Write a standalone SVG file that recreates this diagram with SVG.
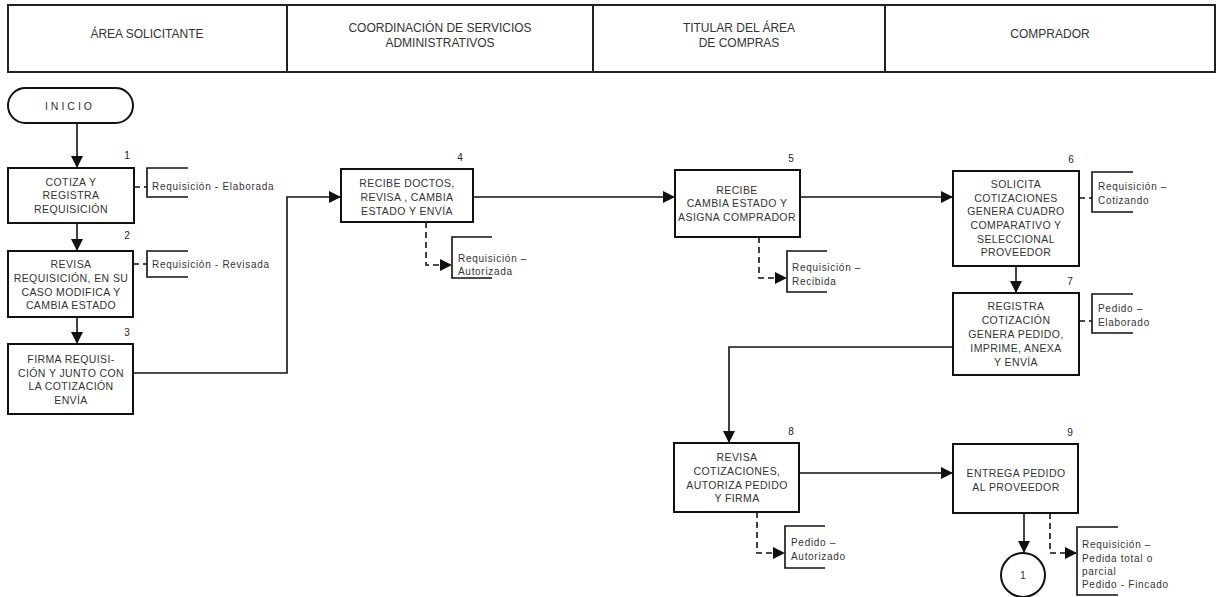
<svg xmlns="http://www.w3.org/2000/svg" width="1220" height="597" viewBox="0 0 1220 597">
<style>
.hdr{fill:none;stroke:#222;stroke-width:2}
.ht{font-family:"Liberation Sans",Arial,sans-serif;font-size:12px;fill:#333;text-anchor:middle}
.box{fill:#fff;stroke:#111;stroke-width:2}
.bt{font-family:"Liberation Sans",Arial,sans-serif;font-size:10.5px;letter-spacing:0.4px;fill:#333;text-anchor:middle}
.num{font-family:"Liberation Sans",Arial,sans-serif;font-size:10px;fill:#222;text-anchor:middle}
.at{font-family:"Liberation Sans",Arial,sans-serif;font-size:10px;letter-spacing:0.7px;fill:#333}
.ln{fill:none;stroke:#111;stroke-width:1.6}
.dl{fill:none;stroke:#111;stroke-width:1.6;stroke-dasharray:6,4}
.br{fill:none;stroke:#111;stroke-width:1.6}
</style>
<defs>
<marker id="ahb" viewBox="0 0 10 10" refX="10" refY="5" markerWidth="12" markerHeight="12" orient="auto" markerUnits="userSpaceOnUse">
<path d="M0,0 L10,5 L0,10 z" fill="#111"/>
</marker>
</defs>
<rect width="1220" height="597" fill="#fff"/>

<g id="header">
<rect class="hdr" x="8" y="5" width="1207" height="67"/>
<line class="hdr" x1="287" y1="5" x2="287" y2="72"/>
<line class="hdr" x1="593" y1="5" x2="593" y2="72"/>
<line class="hdr" x1="885" y1="5" x2="885" y2="72"/>
<text class="ht" x="147" y="38">ÁREA SOLICITANTE</text>
<text class="ht" x="440" y="32">COORDINACIÓN DE SERVICIOS</text>
<text class="ht" x="440" y="47">ADMINISTRATIVOS</text>
<text class="ht" x="739" y="32">TITULAR DEL ÁREA</text>
<text class="ht" x="739" y="47">DE COMPRAS</text>
<text class="ht" x="1050" y="38">COMPRADOR</text>
</g>

<g id="connectors">
<line class="ln" x1="77" y1="123" x2="77" y2="168" marker-end="url(#ahb)"/>
<line class="ln" x1="77" y1="223" x2="77" y2="251" marker-end="url(#ahb)"/>
<line class="ln" x1="77" y1="317" x2="77" y2="344" marker-end="url(#ahb)"/>
<polyline class="ln" points="133,373 287,373 287,197 341,197" marker-end="url(#ahb)"/>
<line class="ln" x1="473" y1="197" x2="675" y2="197" marker-end="url(#ahb)"/>
<line class="ln" x1="800" y1="197" x2="953" y2="197" marker-end="url(#ahb)"/>
<line class="ln" x1="1016" y1="266" x2="1016" y2="293" marker-end="url(#ahb)"/>
<polyline class="ln" points="953,347 729,347 729,443" marker-end="url(#ahb)"/>
<line class="ln" x1="799" y1="473" x2="953" y2="473" marker-end="url(#ahb)"/>
<line class="ln" x1="1024" y1="513" x2="1024" y2="553" marker-end="url(#ahb)"/>
<line class="dl" x1="134" y1="187" x2="147" y2="187"/>
<line class="dl" x1="133" y1="264" x2="147" y2="264"/>
<polyline class="dl" points="426,222 426,265 452,265" marker-end="url(#ahb)"/>
<polyline class="dl" points="759,237 759,278 787,278" marker-end="url(#ahb)"/>
<line class="dl" x1="1079" y1="198" x2="1092" y2="198"/>
<line class="dl" x1="1079" y1="321" x2="1092" y2="321"/>
<polyline class="dl" points="757,512 757,553 785,553" marker-end="url(#ahb)"/>
<polyline class="dl" points="1050,513 1050,553 1077,553" marker-end="url(#ahb)"/>
</g>

<g id="inicio">
<rect class="box" x="8" y="88" width="125" height="35" rx="17.5" ry="17.5"/>
<text class="bt" x="70" y="110" style="letter-spacing:3px">INICIO</text>
</g>

<g id="n1">
<rect class="box" x="8" y="168" width="126" height="55"/>
<text class="num" x="127" y="159">1</text>
<text class="bt" x="71" y="186">COTIZA Y</text>
<text class="bt" x="71" y="199">REGISTRA</text>
<text class="bt" x="71" y="213">REQUISICIÓN</text>
</g>
<g id="a1">
<polyline class="br" points="188,168 147,168 147,197 188,197"/>
<text class="at" x="152" y="190">Requisición - Elaborada</text>
</g>

<g id="n2">
<rect class="box" x="8" y="251" width="125" height="66"/>
<text class="num" x="127" y="239">2</text>
<text class="bt" x="71" y="268">REVISA</text>
<text class="bt" x="71" y="282">REQUISICIÓN, EN SU</text>
<text class="bt" x="71" y="296">CASO MODIFICA Y</text>
<text class="bt" x="71" y="309">CAMBIA ESTADO</text>
</g>
<g id="a2">
<polyline class="br" points="188,251 147,251 147,277 188,277"/>
<text class="at" x="152" y="268">Requisición - Revisada</text>
</g>

<g id="n3">
<rect class="box" x="8" y="344" width="125" height="70"/>
<text class="num" x="127" y="336">3</text>
<text class="bt" x="71" y="363">FIRMA REQUISI-</text>
<text class="bt" x="71" y="377">CIÓN Y JUNTO CON</text>
<text class="bt" x="71" y="390">LA COTIZACIÓN</text>
<text class="bt" x="71" y="404">ENVÍA</text>
</g>

<g id="n4">
<rect class="box" x="341" y="169" width="132" height="53"/>
<text class="num" x="460" y="161">4</text>
<text class="bt" x="407" y="187">RECIBE DOCTOS,</text>
<text class="bt" x="407" y="201">REVISA , CAMBIA</text>
<text class="bt" x="407" y="215">ESTADO Y ENVÍA</text>
</g>
<g id="a4">
<polyline class="br" points="492,237 452,237 452,278 492,278"/>
<text class="at" x="458" y="262">Requisición –</text>
<text class="at" x="458" y="275">Autorizada</text>
</g>

<g id="n5">
<rect class="box" x="675" y="170" width="125" height="67"/>
<text class="num" x="791" y="162">5</text>
<text class="bt" x="737" y="194">RECIBE</text>
<text class="bt" x="737" y="207">CAMBIA ESTADO Y</text>
<text class="bt" x="737" y="221">ASIGNA COMPRADOR</text>
</g>
<g id="a5">
<polyline class="br" points="827,251 787,251 787,292 827,292"/>
<text class="at" x="792" y="271">Requisición –</text>
<text class="at" x="792" y="285">Recibida</text>
</g>

<g id="n6">
<rect class="box" x="953" y="171" width="126" height="95"/>
<text class="num" x="1071" y="163">6</text>
<text class="bt" x="1016" y="188">SOLICITA</text>
<text class="bt" x="1016" y="202">COTIZACIONES</text>
<text class="bt" x="1016" y="215">GENERA CUADRO</text>
<text class="bt" x="1016" y="229">COMPARATIVO Y</text>
<text class="bt" x="1016" y="243">SELECCIONAL</text>
<text class="bt" x="1016" y="256">PROVEEDOR</text>
</g>
<g id="a6">
<polyline class="br" points="1133,172 1092,172 1092,212 1133,212"/>
<text class="at" x="1098" y="190">Requisición –</text>
<text class="at" x="1098" y="204">Cotizando</text>
</g>

<g id="n7">
<rect class="box" x="953" y="293" width="126" height="82"/>
<text class="num" x="1070" y="285">7</text>
<text class="bt" x="1016" y="310">REGISTRA</text>
<text class="bt" x="1016" y="324">COTIZACIÓN</text>
<text class="bt" x="1016" y="338">GENERA PEDIDO,</text>
<text class="bt" x="1016" y="352">IMPRIME, ANEXA</text>
<text class="bt" x="1016" y="366">Y ENVÍA</text>
</g>
<g id="a7">
<polyline class="br" points="1133,294 1092,294 1092,333 1133,333"/>
<text class="at" x="1098" y="312">Pedido –</text>
<text class="at" x="1098" y="326">Elaborado</text>
</g>

<g id="n8">
<rect class="box" x="674" y="443" width="125" height="69"/>
<text class="num" x="791" y="435">8</text>
<text class="bt" x="737" y="461">REVISA</text>
<text class="bt" x="737" y="475">COTIZACIONES,</text>
<text class="bt" x="737" y="489">AUTORIZA PEDIDO</text>
<text class="bt" x="737" y="502">Y FIRMA</text>
</g>
<g id="a8">
<polyline class="br" points="825,526 785,526 785,568 825,568"/>
<text class="at" x="791" y="546">Pedido –</text>
<text class="at" x="791" y="560">Autorizado</text>
</g>

<g id="n9">
<rect class="box" x="953" y="444" width="125" height="69"/>
<text class="num" x="1070" y="436">9</text>
<text class="bt" x="1016" y="477">ENTREGA PEDIDO</text>
<text class="bt" x="1016" y="491">AL PROVEEDOR</text>
</g>
<g id="a9">
<polyline class="br" points="1118,527 1077,527 1077,595 1118,595"/>
<text class="at" x="1082" y="548">Requisición –</text>
<text class="at" x="1082" y="562">Pedida total o</text>
<text class="at" x="1082" y="575">parcial</text>
<text class="at" x="1082" y="588">Pedido - Fincado</text>
</g>

<g id="c1">
<circle class="box" cx="1023" cy="575" r="22"/>
<text class="bt" x="1023" y="579">1</text>
</g>
</svg>
